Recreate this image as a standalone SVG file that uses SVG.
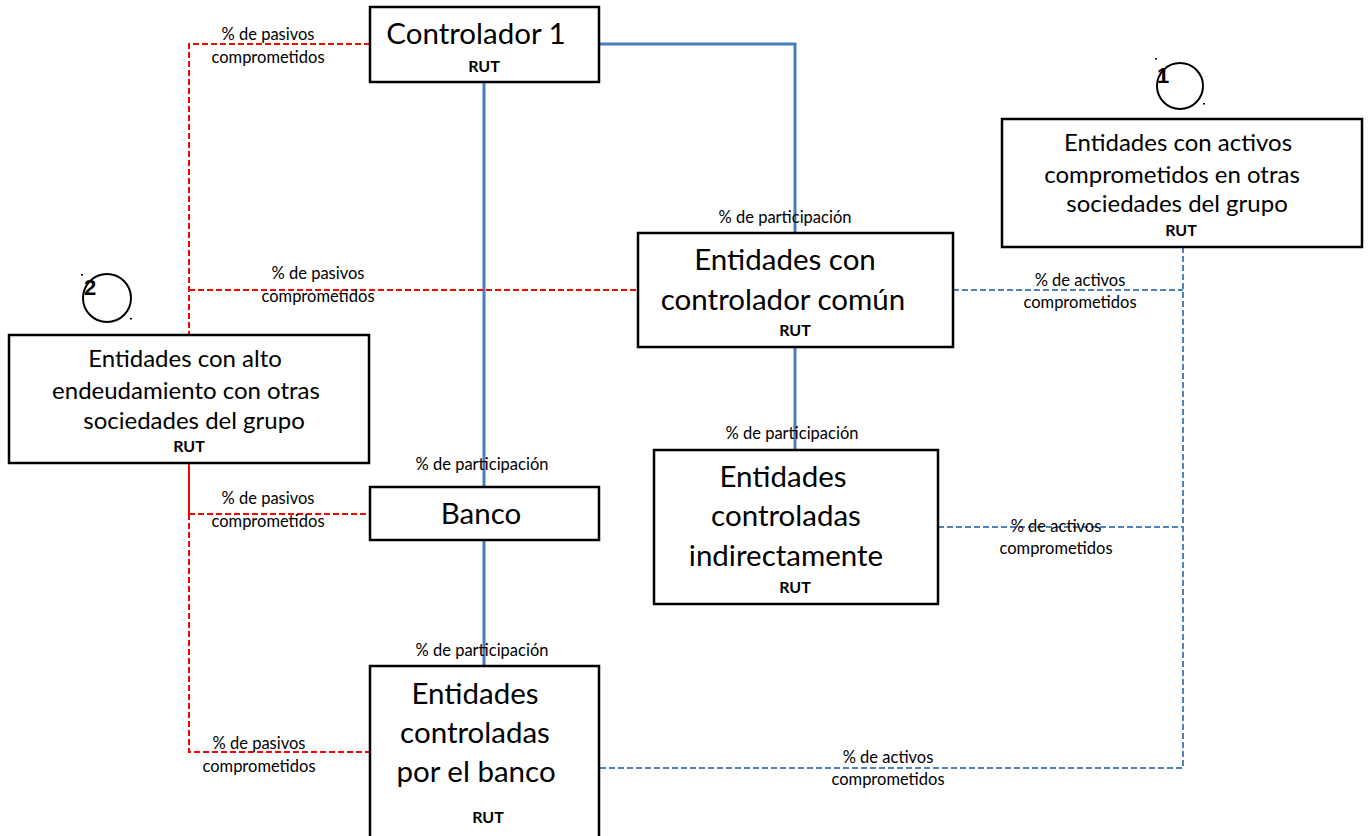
<svg xmlns="http://www.w3.org/2000/svg" width="1370" height="836" viewBox="0 0 1370 836">
<style>
.box{fill:#fff;stroke:#000;stroke-width:2.5}
.t{font-family:Lato,"Open Sans","Liberation Sans",sans-serif;fill:#000;text-anchor:middle}
.big{font-size:29.5px}
.mid{font-size:24px}
.rut{font-size:16px;font-weight:bold}
.lbl{font-size:16.5px}
.num{font-family:"Liberation Sans",sans-serif;font-size:22px;font-weight:bold;text-anchor:middle}
.blue{fill:none;stroke:#4a7ebb;stroke-width:3}
.red{fill:none;stroke:#ff0000;stroke-width:2;stroke-dasharray:6 3}
.bd{fill:none;stroke:#4f81bd;stroke-width:2;stroke-dasharray:6 3}
</style>
<rect width="1370" height="836" fill="#fff"/>
<g id="connectors">
<path class="blue" d="M599 44H795V233"/>
<path class="blue" d="M484 82V666"/>
<path class="blue" d="M795 347V450"/>
<path class="red" d="M370 44H189V335"/>
<path class="red" d="M189 290H638"/>
<path d="M189 463V514" fill="none" stroke="#ff0000" stroke-width="2"/>
<path class="red" d="M189 514V752H370"/>
<path class="red" d="M189 514H370"/>
<path class="bd" d="M1183 247V768H599"/>
<path class="bd" d="M953 290H1183"/>
<path class="bd" d="M938 527H1183"/>
<g class="t lbl">
<text x="268" y="40">% de pasivos</text><text x="268" y="63">comprometidos</text>
<text x="318" y="279">% de pasivos</text><text x="318" y="302">comprometidos</text>
<text x="268" y="504">% de pasivos</text><text x="268" y="527">comprometidos</text>
<text x="259" y="749">% de pasivos</text><text x="259" y="772">comprometidos</text>
<text x="785" y="223">% de participación</text>
<text x="482" y="470">% de participación</text>
<text x="792" y="439">% de participación</text>
<text x="482" y="656">% de participación</text>
<text x="1080" y="286">% de activos</text><text x="1080" y="308">comprometidos</text>
<text x="1056" y="532">% de activos</text><text x="1056" y="554">comprometidos</text>
<text x="888" y="763">% de activos</text><text x="888" y="785">comprometidos</text>
</g>
</g>
<g id="controlador1">
<rect class="box" x="370" y="7" width="229" height="75"/>
<text class="t big" x="476" y="44">Controlador 1</text>
<text class="t rut" x="484" y="72">RUT</text>
</g>
<g id="comun">
<rect class="box" x="638" y="233" width="315" height="114"/>
<text class="t big" x="785" y="270">Entidades con</text>
<text class="t big" x="783" y="310">controlador común</text>
<text class="t rut" x="795" y="336">RUT</text>
</g>
<g id="activos">
<rect class="box" x="1002" y="119" width="360" height="128"/>
<text class="t mid" x="1178" y="151">Entidades con activos</text>
<text class="t mid" x="1172" y="183">comprometidos en otras</text>
<text class="t mid" x="1177" y="212">sociedades del grupo</text>
<text class="t rut" x="1181" y="236">RUT</text>
</g>
<g id="endeudamiento">
<rect class="box" x="9" y="335" width="360" height="128"/>
<text class="t mid" x="185" y="367">Entidades con alto</text>
<text class="t mid" x="186" y="399">endeudamiento con otras</text>
<text class="t mid" x="194" y="429">sociedades del grupo</text>
<text class="t rut" x="189" y="452">RUT</text>
</g>
<g id="banco">
<rect class="box" x="370" y="487" width="229" height="53"/>
<text class="t big" x="481" y="524">Banco</text>
</g>
<g id="indirectas">
<rect class="box" x="654" y="450" width="284" height="154"/>
<text class="t big" x="783" y="487">Entidades</text>
<text class="t big" x="786" y="526">controladas</text>
<text class="t big" x="786" y="566">indirectamente</text>
<text class="t rut" x="795" y="593">RUT</text>
</g>
<g id="porbanco">
<rect class="box" x="370" y="666" width="229" height="180"/>
<text class="t big" x="475" y="704">Entidades</text>
<text class="t big" x="475" y="743">controladas</text>
<text class="t big" x="476" y="782">por el banco</text>
<text class="t rut" x="488" y="823">RUT</text>
</g>
<g id="nota1">
<circle cx="1180" cy="86" r="23" fill="none" stroke="#000" stroke-width="2"/>
<text class="num" x="1163" y="83">1</text>
<rect x="1155" y="58" width="2" height="1.5" fill="#000"/>
<rect x="1203" y="103" width="2" height="1.5" fill="#000"/>
</g>
<g id="nota2">
<circle cx="107" cy="298" r="24" fill="none" stroke="#000" stroke-width="2"/>
<text class="num" x="90" y="295">2</text>
<rect x="81" y="274" width="2" height="1.5" fill="#000"/>
<rect x="130" y="318" width="2" height="1.5" fill="#000"/>
</g>
</svg>
